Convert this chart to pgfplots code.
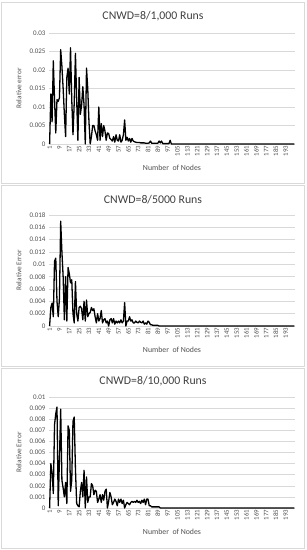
\documentclass[border=0pt]{standalone}
\usepackage{pgfplots}
\pgfplotsset{compat=1.18}
\usepackage{fontspec}
\setmainfont{Carlito}
\definecolor{gridc}{HTML}{D9D9D9}
\definecolor{txtc}{HTML}{505050}
\definecolor{titc}{HTML}{404040}
\pgfplotsset{excel/.style={
  scale only axis, width=246pt, height=111pt,
  xmin=0.5, xmax=200.5, ymin=0,
  separate axis lines,
  axis x line*=bottom, axis y line*=left,
  y axis line style={draw=none},
  x axis line style={draw=gridc, line width=0.6pt},
  major tick length=0pt,
  ymajorgrids, grid style={gridc, line width=0.6pt},
  xtick={1,9,17,25,33,41,49,57,65,73,81,89,97,105,113,121,129,137,145,153,161,169,177,185,193},
  xticklabels={1,9,17,25,33,41,49,57,65,73,81,89,97,105,113,121,129,137,145,153,161,169,177,185,193},
  /pgf/number format/assume math mode=true,
  x tick label style={rotate=90, anchor=east, font=\fontsize{6.8}{6.8}\selectfont, text=txtc, inner sep=1.5pt},
  y tick label style={font=\fontsize{7}{7}\selectfont, text=txtc, /pgf/number format/fixed, /pgf/number format/precision=3},
  scaled y ticks=false,
  xlabel={Number\ \ of Nodes},
  xlabel style={at={(axis description cs:0.5,-0.216)}, anchor=center, font=\fontsize{7.8}{7.8}\selectfont, text=txtc},
  ylabel style={at={(axis description cs:-0.122,0.5)}, anchor=center, font=\fontsize{7.3}{7.3}\selectfont, text=txtc},
  clip=false,
}}
\tikzset{serie/.style={black, line width=1.3pt, line join=round, mark=none}}
\begin{document}
\begin{tikzpicture}
\useasboundingbox (0,0) rectangle (307pt,550pt);
\draw[gridc, line width=0.6pt] (1pt,367pt) rectangle (304pt,548pt);
\draw[gridc, line width=0.6pt] (1pt,184pt) rectangle (304pt,365pt);
\draw[gridc, line width=0.6pt] (1pt,2pt) rectangle (304pt,182pt);
\node[text=titc, font=\fontsize{11.8}{11.8}\selectfont] at (153pt,534pt) {CNWD=8/1,000 Runs};
\node[text=titc, font=\fontsize{11.8}{11.8}\selectfont] at (153pt,350pt) {CNWD=8/5000 Runs};
\node[text=titc, font=\fontsize{11.8}{11.8}\selectfont] at (153pt,169pt) {CNWD=8/10,000 Runs};

\begin{axis}[excel, at={(49pt,406pt)}, anchor=south west, ymax=0.03,
  ytick={0,0.005,0.01,0.015,0.02,0.025,0.03}, ylabel={Relative error}]
\addplot[serie] coordinates {
(1,0) (2,0.0135) (3,0.006) (4,0.0225) (5,0.012) (6,0.003) (7,0.012) (8,0.0115) (9,0.0125) (10,0.0255)
(11,0.021) (12,0.015) (13,0.008) (14,0.002) (15,0.018) (16,0.0205) (17,0.0135) (18,0.026) (19,0.012) (20,0.0025)
(21,0.011) (22,0.0245) (23,0.012) (24,0.001) (25,0.018) (26,0.008) (27,0.0105) (28,0.0155) (29,0.0105) (30,0)
(31,0.0205) (32,0.015) (33,0.006) (34,0) (35,0.002) (36,0.005) (37,0.005) (38,0.0035) (39,0.0025) (40,0.001)
(41,0.010) (42,0.001) (43,0.0055) (44,0.002) (45,0.005) (46,0.0035) (47,0.001) (48,0.003) (49,0.0028) (50,0.0015)
(51,0.0012) (52,0.0008) (53,0.002) (54,0.0005) (55,0.0025) (56,0.001) (57,0.0008) (58,0.0025) (59,0.0005) (60,0.001)
(61,0.0025) (62,0.0065) (63,0.001) (64,0.0018) (65,0.0008) (66,0.0015) (67,0.0005) (68,0.0015) (69,0.0008) (70,0.0006)
(71,0.0005) (72,0.0004) (73,0.0004) (74,0.0004) (75,0.0003) (76,0.0003) (77,0.0003) (78,0.0003) (79,0.0002) (80,0.0002)
(81,0.0002) (82,0.0003) (83,0.0008) (84,0.0002) (85,0.0002) (86,0.0002) (87,0.0002) (88,0.0002) (89,0.0002) (90,0.0008)
(91,0.0003) (92,0.0008) (93,0.0001) (94,0.0001) (95,0.0001) (96,0.0001) (97,0.0001) (98,0.0001) (99,0.001) (100,0)
(200,0)
};
\end{axis}

\begin{axis}[excel, at={(49pt,224pt)}, anchor=south west, ymax=0.018,
  ytick={0,0.002,0.004,0.006,0.008,0.01,0.012,0.014,0.016,0.018}, ylabel={Relative Error}]
\addplot[serie] coordinates {
(1,0) (2,0.003) (3,0.0037) (4,0.0015) (5,0.0105) (6,0.011) (7,0.004) (8,0.0015) (9,0.0045) (10,0.017)
(11,0.012) (12,0.008) (13,0.001) (14,0.008) (15,0.0008) (16,0.0095) (17,0.0085) (18,0.007) (19,0.0075) (20,0.002)
(21,0.0005) (22,0.0072) (23,0.002) (24,0.0008) (25,0.003) (26,0.0032) (27,0.0028) (28,0.001) (29,0.004) (30,0.0008)
(31,0.0042) (32,0.0015) (33,0.002) (34,0.0022) (35,0.003) (36,0.0025) (37,0.0028) (38,0.0015) (39,0.0005) (40,0.002)
(41,0.0008) (42,0.0012) (43,0.0025) (44,0.0005) (45,0.001) (46,0.0012) (47,0.0005) (48,0.0008) (49,0) (50,0.001)
(51,0.0012) (52,0.0005) (53,0.0012) (54,0.0003) (55,0.0008) (56,0.0005) (57,0.0008) (58,0.0005) (59,0.001) (60,0.0005)
(61,0.0008) (62,0.0038) (63,0) (64,0.0008) (65,0.0008) (66,0.0015) (67,0.0008) (68,0.001) (69,0.0005) (70,0.0005)
(71,0.0008) (72,0.0006) (73,0.0005) (74,0.0008) (75,0.0006) (76,0.0005) (77,0.0008) (78,0.0003) (79,0.0005) (80,0.0003)
(81,0.0008) (82,0.0006) (83,0.0002) (84,0.0002) (85,0.0001) (86,0.0001) (87,0.0001) (88,0.0001) (89,0.0001) (90,0)
(200,0)
};
\end{axis}

\begin{axis}[excel, at={(49pt,42pt)}, anchor=south west, ymax=0.01,
  ytick={0,0.001,0.002,0.003,0.004,0.005,0.006,0.007,0.008,0.009,0.01}, ylabel={Relative Error}]
\addplot[serie] coordinates {
(1,0) (2,0.004) (3,0.0032) (4,0.0013) (5,0.0075) (6,0.0085) (7,0.0091) (8,0.0002) (9,0.0045) (10,0.0089)
(11,0.0025) (12,0.0018) (13,0.001) (14,0.0023) (15,0.0004) (16,0.0074) (17,0.007) (18,0.0015) (19,0.0025) (20,0.0078)
(21,0.0082) (22,0.0035) (23,0.0004) (24,0.0002) (25,0.0001) (26,0.0015) (27,0.0023) (28,0.001) (29,0.0034) (30,0)
(31,0.0028) (32,0.0005) (33,0.001) (34,0.001) (35,0.0022) (36,0.002) (37,0.0012) (38,0.0016) (39,0.0015) (40,0.0005)
(41,0.0008) (42,0.0012) (43,0.0005) (44,0.0012) (45,0.0007) (46,0.0015) (47,0.0017) (48,0) (49,0.0006) (50,0.0014)
(51,0.001) (52,0.0003) (53,0.0005) (54,0.0008) (55,0.0006) (56,0.0002) (57,0.0008) (58,0.0005) (59,0.0008) (60,0.0004)
(61,0.0007) (62,0) (63,0.0003) (64,0.0005) (65,0.0004) (66,0.0003) (67,0.0005) (68,0.0006) (69,0.0005) (70,0.0006)
(71,0.0005) (72,0.0007) (73,0.0005) (74,0.0006) (75,0.0004) (76,0.0007) (77,0.0005) (78,0.0008) (79,0.0003) (80,0.0008)
(81,0.0008) (82,0.0002) (83,0.0002) (84,0.0001) (85,0.0001) (86,0.0001) (87,0.0001) (88,0.0001) (89,0.0001) (90,0.0001)
(91,0) (200,0)
};
\end{axis}
\end{tikzpicture}
\end{document}
